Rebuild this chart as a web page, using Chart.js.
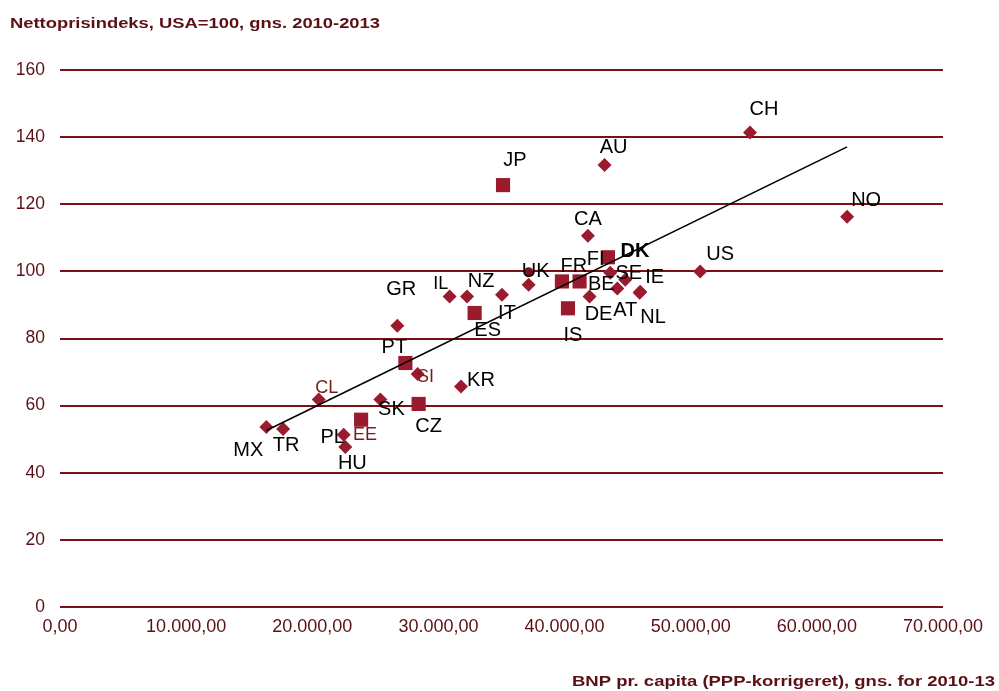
<!DOCTYPE html>
<html><head><meta charset="utf-8">
<script src="https://cdn.jsdelivr.net/npm/chart.js@4"></script>
<style>html,body{margin:0;padding:0;background:#fff}canvas{display:block}</style>
</head><body>
<canvas id="c" width="999" height="691"></canvas>
<script>
// ---- data ----
const countries = ['CH','NO','US','AU','JP','CA','DK','FR','FI','BE','SE','IE','AT','NL','DE','IS','UK','IT','ES','NZ','IL','GR','PT','SI','KR','CL','SK','CZ','EE','PL','MX','TR','HU'];
const gdpPerCapita = [54700,62400,50750,43170,35120,41850,43440,39790,41190,43620,44810,46000,44180,45950,41980,40270,37150,35040,32870,32270,30890,26740,27380,28350,31790,20510,25400,28430,23870,22490,16360,17690,22620];
const priceIndex = [141.4,116.3,100.0,131.7,125.7,110.6,104.2,97.0,97.0,99.6,97.5,93.9,94.9,93.6,92.5,89.0,96.0,93.0,87.6,92.5,92.5,83.8,72.7,69.4,65.7,61.8,61.8,60.5,55.8,51.3,53.6,53.0,47.7];
const squareCountries = ['JP','DK','FR','FI','IS','ES','PT','CZ','EE'];
const extraPointX = [37150];
const extraPointY = [99.9];
const trendX = [16360, 62400];
const trendY = [52.6, 137.1];
const xTickLabels = ['0,00','10.000,00','20.000,00','30.000,00','40.000,00','50.000,00','60.000,00','70.000,00'];
const yTitle = 'Nettoprisindeks, USA=100, gns. 2010-2013';
const xTitle = 'BNP pr. capita (PPP-korrigeret), gns. for 2010-13';

// ---- label placement (pixels relative to marker) ----
const labelOffsets = {
  CH:[14,-23], NO:[19,-16], US:[20,-17], AU:[9,-17.5], JP:[12,-25], CA:[0,-16.5],
  DK:[27,-6], FR:[12,-15], FI:[16,-22], BE:[-9,11.5], SE:[3.5,-6.5], IE:[14.5,-14.5],
  AT:[8,22], NL:[13.5,24.5], DE:[9,18], IS:[5,27], UK:[7,-13], IT:[5,18.5], ES:[13,17],
  NZ:[14,-15], IL:[-9,-13], GR:[4,-36.5], PT:[-11,-16], SI:[8,2.5], KR:[20,-6],
  CL:[8,-12], SK:[11,10], CZ:[10,23], EE:[4,15], PL:[-11,2.5], MX:[-18,23], TR:[3,16], HU:[7,17]
};
const redLabels = ['CL','SI','EE'];
const smallLabels = ['CL','SI','EE','IL'];
const boldLabels = ['DK'];

const MARK = '#9b1b2e';
const GRID = '#7a1010';
const TXT = '#5b1015';
const FONT = "'Liberation Sans', Arial, sans-serif";

const labelPlugin = {
  id: 'pointLabels',
  afterDatasetsDraw(chart) {
    const meta = chart.getDatasetMeta(1);
    const ctx = chart.ctx;
    ctx.save();
    ctx.textAlign = 'center';
    ctx.textBaseline = 'middle';
    meta.data.forEach((el, i) => {
      const c = countries[i];
      const off = labelOffsets[c] || [10, -14];
      const size = smallLabels.includes(c) ? 18 : 20;
      ctx.font = (boldLabels.includes(c) ? 'bold ' : '') + size + 'px ' + FONT;
      ctx.fillStyle = redLabels.includes(c) ? '#7a1a1e' : '#000';
      ctx.fillText(c, el.x + off[0], el.y + off[1]);
    });
    ctx.restore();
  }
};

function stretchedText(ctx, text, x, baseline, width, align) {
  const w = ctx.measureText(text).width;
  const sx = width / w;
  ctx.save();
  ctx.textAlign = 'left';
  ctx.textBaseline = 'alphabetic';
  const left = align === 'right' ? x - width : x;
  ctx.translate(left, baseline);
  ctx.scale(sx, 1);
  ctx.fillText(text, 0, 0);
  ctx.restore();
}

const titlePlugin = {
  id: 'titles',
  afterDraw(chart) {
    const ctx = chart.ctx;
    ctx.save();
    ctx.fillStyle = TXT;
    ctx.font = 'bold 15px ' + FONT;
    stretchedText(ctx, yTitle, 10, 27.5, 370, 'left');
    stretchedText(ctx, xTitle, 995, 685.5, 423, 'right');
    ctx.restore();
  }
};

new Chart(document.getElementById('c'), {
  type: 'scatter',
  data: {
    datasets: [
      {
        label: 'trend',
        type: 'line',
        data: trendX.map((x, i) => ({x: x, y: trendY[i]})),
        borderColor: '#000',
        borderWidth: 1.6,
        pointRadius: 0,
        fill: false,
        order: 0
      },
      {
        label: 'lande',
        data: countries.map((c, i) => ({x: gdpPerCapita[i], y: priceIndex[i]})),
        pointStyle: countries.map(c => squareCountries.includes(c) ? 'rect' : 'rectRot'),
        pointRadius: countries.map(c => squareCountries.includes(c) ? 10 : 7),
        backgroundColor: MARK,
        borderColor: MARK,
        borderWidth: 0,
        order: 1
      },
      {
        label: 'extra',
        data: extraPointX.map((x, i) => ({x: x, y: extraPointY[i]})),
        pointStyle: 'circle',
        pointRadius: 4.5,
        backgroundColor: '#7a1020',
        borderWidth: 0,
        order: 2
      }
    ]
  },
  options: {
    responsive: false,
    animation: false,
    devicePixelRatio: 1,
    layout: {padding: {left: 0, right: 56, top: 70, bottom: 0}},
    plugins: {legend: {display: false}, tooltip: {enabled: false}, title: {display: false}},
    scales: {
      x: {
        type: 'linear', min: 0, max: 70000,
        ticks: {
          stepSize: 10000, autoSkip: false, maxRotation: 0, padding: 9,
          color: TXT, font: {family: FONT, size: 18},
          callback: (v, i) => xTickLabels[i]
        },
        grid: {display: false, drawTicks: false},
        border: {display: false},
        afterFit: s => { s.height = 84; }
      },
      y: {
        min: 0, max: 160,
        ticks: {stepSize: 20, padding: 15, color: TXT, font: {family: FONT, size: 17.5}},
        grid: {color: GRID, lineWidth: 2, drawTicks: false},
        border: {display: false},
        afterFit: s => { s.width = 60; }
      }
    }
  },
  plugins: [labelPlugin, titlePlugin]
});
</script>
</body></html>
